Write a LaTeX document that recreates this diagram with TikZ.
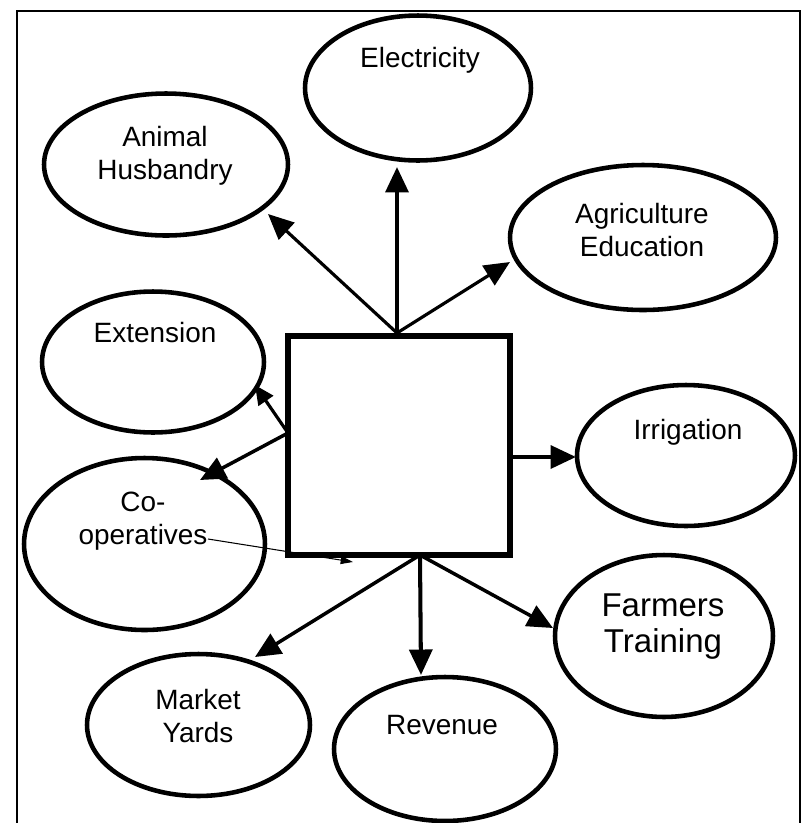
\documentclass[tikz,border=0pt]{standalone}
\usepackage{fontspec}
\setmainfont{Liberation Sans}
\usetikzlibrary{shapes,shapes.geometric,arrows.meta}
\begin{document}
\begin{tikzpicture}[x=0.02cm,y=-0.02cm]
	\tikzstyle{bubble}=[ellipse,draw,line width=2.6pt,inner sep=0pt]
	\tikzstyle{word}=[inner sep=0pt,align=center,font=\fontsize{15.9}{18.8}\selectfont]
	\tikzstyle{fat}=[line width=2.3pt,-{Triangle[length=14.5pt,width=13pt]}]
	\tikzstyle{slim}=[line width=1.8pt,-{Triangle[length=14.5pt,width=13pt]}]
	\useasboundingbox (0,0) rectangle (803,823);
	\draw[line width=0.9pt] (17,840) |- (800,11) -- (800,840);
	\node[draw,line width=3.1pt,minimum width=4.44cm,minimum height=4.38cm,inner sep=0pt] (hub) at (399,445.5) {};
	\node[bubble,minimum width=4.52cm,minimum height=2.9cm] (elec) at (418,88) {};
	\node[bubble,minimum width=4.88cm,minimum height=2.84cm] (animal) at (166,164.5) {};
	\node[bubble,minimum width=5.32cm,minimum height=2.9cm] (agri) at (643,237.5) {};
	\node[bubble,minimum width=4.44cm,minimum height=2.82cm] (ext) at (153,362) {};
	\node[bubble,minimum width=4.36cm,minimum height=2.82cm] (irrig) at (686,455.5) {};
	\node[bubble,minimum width=4.82cm,minimum height=3.44cm] (coop) at (144.5,544) {};
	\node[bubble,minimum width=4.36cm,minimum height=3.24cm] (farm) at (664,636) {};
	\node[bubble,minimum width=4.46cm,minimum height=2.84cm] (market) at (198.5,725) {};
	\node[bubble,minimum width=4.44cm,minimum height=2.88cm] (rev) at (445,749) {};
	\node[word] (elecT) at (420,60) {Electricity};
	\node[word] (animalT) at (165,156) {Animal\\Husbandry};
	\node[word] (agriT) at (642,230) {Agriculture\\Education};
	\node[word] (extT) at (155,333) {Extension};
	\node[word] (irrigT) at (688,432) {Irrigation};
	\node[word] (coopT) at (143,521) {Co-\\operatives};
	\node[word,font=\fontsize{18.8}{20.5}\selectfont] (farmT) at (663,627) {Farmers\\Training};
	\node[word] (marketT) at (198,716) {Market\\Yards};
	\node[word] (revT) at (442,725) {Revenue};
	\coordinate (top) at (397,333);
	\coordinate (lft) at (288,433);
	\coordinate (rgt) at (510,457);
	\coordinate (bot) at (420,555);
	\coordinate (elecIn) at (397,167);
	\coordinate (animalIn) at (268,214);
	\coordinate (agriIn) at (510,262);
	\coordinate (extIn) at (255,385);
	\coordinate (coopIn) at (200,480);
	\coordinate (irrigIn) at (576,457);
	\coordinate (marketIn) at (255,657);
	\coordinate (revIn) at (421,675);
	\coordinate (farmIn) at (553,628);
	\coordinate (coopTail) at (208,539);
	\coordinate (coopHead) at (353,562);
	\draw[fat] (top) -- (elecIn);
	\draw[slim] (top) -- (animalIn);
	\draw[slim] (top) -- (agriIn);
	\draw[slim,-{Triangle[length=11pt,width=10pt]}] (lft) -- (extIn);
	\draw[fat,line width=2pt] (lft) -- (coopIn);
	\draw[fat] (rgt) -- (irrigIn);
	\draw[fat,line width=2pt] (bot) -- (marketIn);
	\draw[fat] (bot) -- (revIn);
	\draw[fat,line width=2pt] (bot) -- (farmIn);
	\draw[line width=0.6pt,-{Triangle[length=7pt,width=4.5pt]}] (coopTail) -- (coopHead);
\end{tikzpicture}
\end{document}
